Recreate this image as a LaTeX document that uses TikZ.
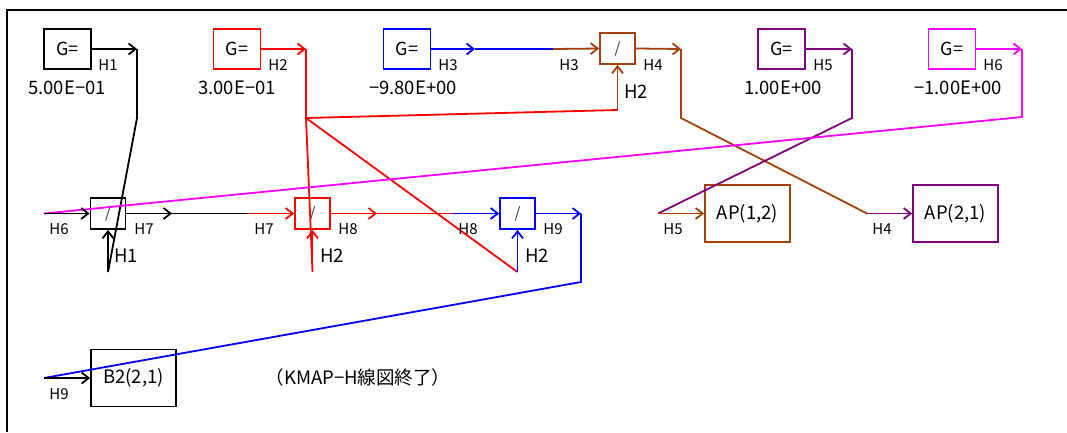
\documentclass[tikz,border=0pt]{standalone}
\usepackage{fontspec}
\setmainfont{Noto Sans CJK JP}
\usepackage{xcolor}
\usetikzlibrary{arrows.meta}

\definecolor{kbrown}{RGB}{164,64,8}
\definecolor{kpurple}{RGB}{128,0,128}
\definecolor{kmagenta}{RGB}{255,0,255}

\begin{document}
\begin{tikzpicture}[
        x=1pt, y=-1pt,
        wire/.style={line width=1.8pt},
        arr/.style={wire, -{Straight Barb[length=7pt,width=11pt,line width=1.8pt]}},
        gbox/.style={draw, line width=1.8pt, minimum width=47pt, minimum height=40pt, inner sep=0pt, font=\fontsize{18}{20}\selectfont},
        divbox/.style={draw, line width=1.8pt, minimum width=35pt, minimum height=31pt, inner sep=0pt, font=\fontsize{15}{17}\selectfont, text=black!80},
        outbox/.style={draw, line width=1.8pt, minimum width=85pt, minimum height=57pt, inner sep=0pt, font=\fontsize{18.5}{20}\selectfont},
        val/.style={font=\fontsize{18.5}{20}\selectfont},
        hlab/.style={font=\fontsize{15}{17}\selectfont, inner sep=0pt},
        inlab/.style={font=\fontsize{18.5}{20}\selectfont, inner sep=0pt}
    ]
        \useasboundingbox (0,0) rectangle (1067,432);

        % Frame
        \draw[line width=2pt] (7,432) -- (7,10) -- (1067,10);

        % Constant blocks
        \node[gbox] (g1) at (67.5,49) {G=};
        \node[gbox, red] (g2) at (237,49) {\textcolor{black}{G=}};
        \node[gbox, blue] (g3) at (407,49) {\textcolor{black}{G=}};
        \node[gbox, kpurple] (g4) at (781.5,49) {\textcolor{black}{G=}};
        \node[gbox, kmagenta] (g5) at (952,49) {\textcolor{black}{G=}};

        \node[val] (v1) at (67,88) {5.00E−01};
        \node[val] (v2) at (237,88) {3.00E−01};
        \node[val] (v3) at (413,88) {−9.80E+00};
        \node[val] (v4) at (783,88) {1.00E+00};
        \node[val] (v5) at (958,88) {−1.00E+00};

        % Division blocks
        \node[divbox, kbrown] (d4) at (617.5,48.5) {\textcolor{black!80}{/}};
        \node[divbox] (d1) at (108,213.5) {/};
        \node[divbox, red] (d2) at (312.5,213.5) {\textcolor{black!80}{/}};
        \node[divbox, blue] (d3) at (517.5,213.5) {\textcolor{black!80}{/}};

        % Output blocks
        \node[outbox, kbrown] (ap12) at (747.5,213.5) {\textcolor{black}{AP(1,2)}};
        \node[outbox, kpurple] (ap21) at (955.5,213.5) {\textcolor{black}{AP(2,1)}};
        \node[outbox] (b2) at (133.5,378) {B2(2,1)};
        \node[val] (fin) at (358,377) {（KMAP−H線図終了）};

        % Bend points
        \coordinate (c1a) at (137,49);   \coordinate (c1b) at (137,118);  \coordinate (c1c) at (108,272);
        \coordinate (c2a) at (306,49);   \coordinate (c2b) at (306,118);
        \coordinate (c2c) at (312.5,272); \coordinate (c2d) at (517.5,272); \coordinate (c2e) at (617.5,110);
        \coordinate (c3a) at (475,49);   \coordinate (c3b) at (553,49);
        \coordinate (c4a) at (681,49);   \coordinate (c4b) at (681,118);  \coordinate (c4c) at (867,213.5);
        \coordinate (c5a) at (852,49);   \coordinate (c5b) at (852,118);  \coordinate (c5c) at (658,213.5);
        \coordinate (c6a) at (1022,49);  \coordinate (c6b) at (1022,117); \coordinate (c6c) at (44,213.5);
        \coordinate (c7a) at (172,213.5); \coordinate (c7b) at (248,213.5);
        \coordinate (c8a) at (377,213.5); \coordinate (c8b) at (453,213.5);
        \coordinate (c9a) at (581,213.5); \coordinate (c9b) at (581,282);  \coordinate (c9c) at (44,378);

        % H1
        \draw[arr] (g1.east) -- (c1a);
        \draw[wire] (c1a) -- (c1b) -- (c1c);
        \draw[arr] (c1c) -- (d1.south);
        % H2
        \draw[arr, red] (g2.east) -- (c2a);
        \draw[wire, red] (c2a) -- (c2b) -- (c2c);
        \draw[wire, red] (c2b) -- (c2d);
        \draw[wire, red] (c2b) -- (c2e);
        \draw[arr, red] (c2c) -- (d2.south);
        \draw[arr, blue] (c2d) -- (d3.south);
        \draw[arr, kbrown] (c2e) -- (d4.south);
        % H3
        \draw[arr, blue] (g3.east) -- (c3a);
        \draw[wire, blue] (c3a) -- (c3b);
        \draw[arr, kbrown] (c3b) -- (d4.west);
        % H4
        \draw[arr, kbrown] (d4.east) -- (c4a);
        \draw[wire, kbrown] (c4a) -- (c4b) -- (c4c);
        \draw[arr, kpurple] (c4c) -- (ap21.west);
        % H5
        \draw[arr, kpurple] (g4.east) -- (c5a);
        \draw[wire, kpurple] (c5a) -- (c5b) -- (c5c);
        \draw[arr, kbrown] (c5c) -- (ap12.west);
        % H6
        \draw[arr, kmagenta] (g5.east) -- (c6a);
        \draw[wire, kmagenta] (c6a) -- (c6b) -- (c6c);
        \draw[arr] (c6c) -- (d1.west);
        % H7
        \draw[arr] (d1.east) -- (c7a);
        \draw[wire] (c7a) -- (c7b);
        \draw[arr, red] (c7b) -- (d2.west);
        % H8
        \draw[arr, red] (d2.east) -- (c8a);
        \draw[wire, red] (c8a) -- (c8b);
        \draw[arr, blue] (c8b) -- (d3.west);
        % H9
        \draw[arr, blue] (d3.east) -- (c9a);
        \draw[wire, blue] (c9a) -- (c9b) -- (c9c);
        \draw[arr] (c9c) -- (b2.west);

        % Signal labels
        \node[hlab] (l1) at (108,65) {H1};
        \node[hlab] (l2) at (278,65) {H2};
        \node[hlab] (l3) at (448,65) {H3};
        \node[hlab] (l3b) at (569,65) {H3};
        \node[hlab] (l4) at (653,65) {H4};
        \node[hlab] (l5) at (823,65) {H5};
        \node[hlab] (l6) at (993,65) {H6};
        \node[hlab] (l6b) at (59,229) {H6};
        \node[hlab] (l7) at (144,229) {H7};
        \node[hlab] (l7b) at (264,229) {H7};
        \node[hlab] (l8) at (348,229) {H8};
        \node[hlab] (l8b) at (468,229) {H8};
        \node[hlab] (l9) at (553,229) {H9};
        \node[hlab] (l5b) at (673,229) {H5};
        \node[hlab] (l4b) at (882,229) {H4};
        \node[hlab] (l9b) at (59,394) {H9};
        \node[inlab] (i1) at (126,256) {H1};
        \node[inlab] (i2) at (332,256) {H2};
        \node[inlab] (i3) at (537,256) {H2};
        \node[inlab] (i4) at (636,92) {H2};
    \end{tikzpicture}
\end{document}
